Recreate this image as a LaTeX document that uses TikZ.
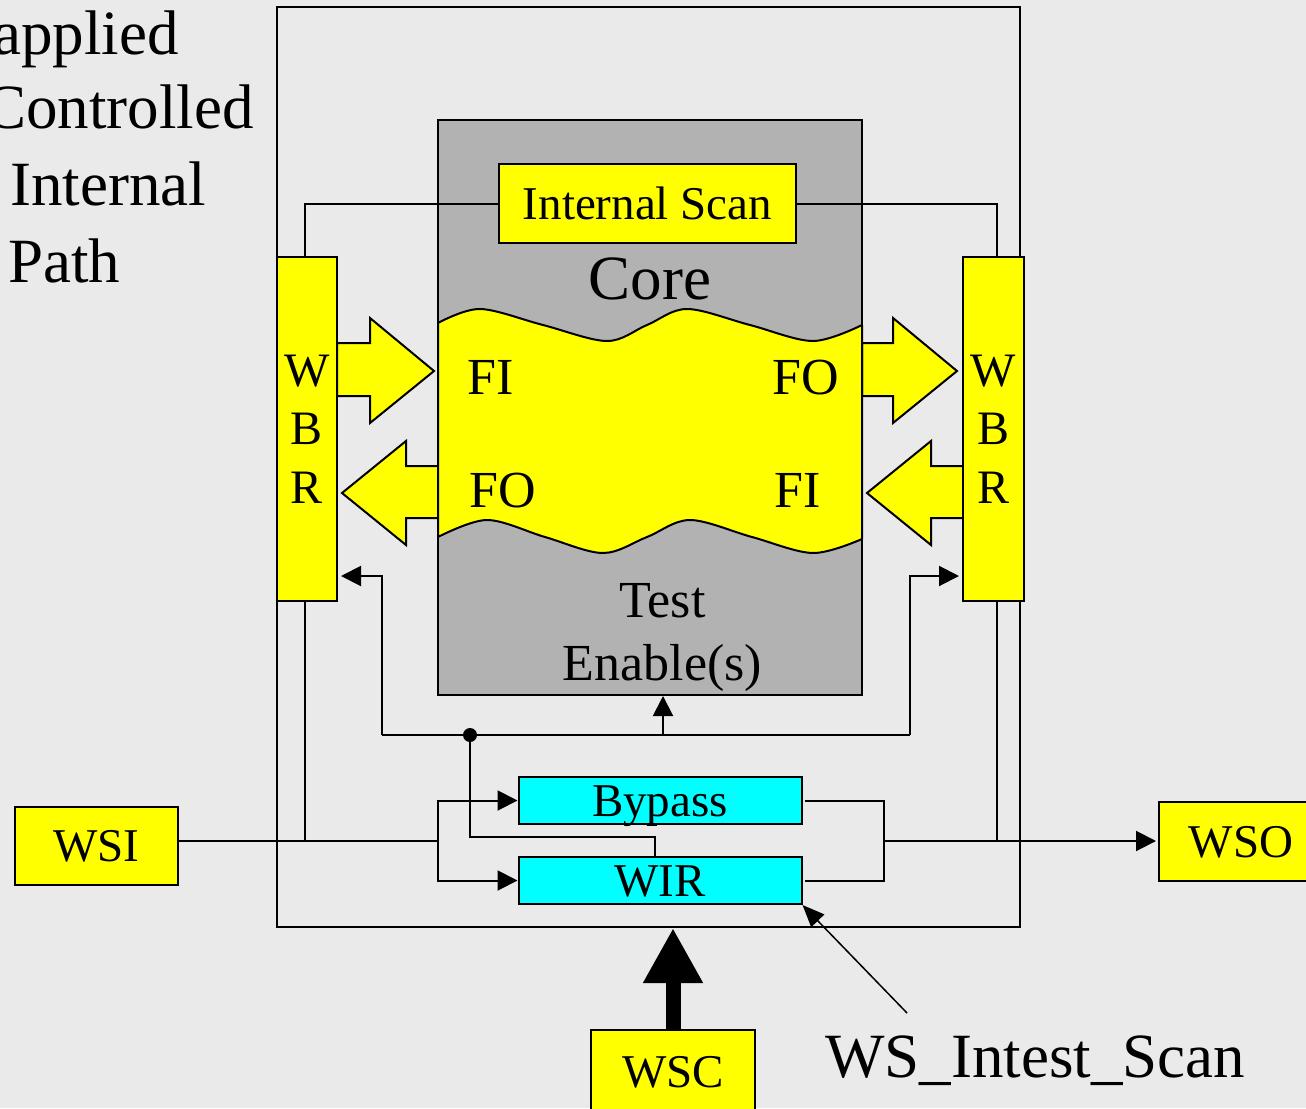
\documentclass[tikz,border=0pt]{standalone}
\usepackage{fontspec}
\setmainfont{Liberation Serif}
\usetikzlibrary{arrows.meta}
\definecolor{bg}{HTML}{EAEAEA}
\definecolor{coregray}{HTML}{B2B2B2}
\definecolor{yel}{HTML}{FFFF00}
\definecolor{cy}{HTML}{00FFFF}
\begin{document}
\begin{tikzpicture}[x=1pt,y=-1pt,
  wire/.style={line width=2pt, draw=black},
  arr/.style={wire, -{Triangle[length=20pt,width=20pt]}},
  box/.style={draw=black, line width=2pt, inner sep=0pt, text height=31pt, text depth=0pt, font=\fontsize{47}{56}\selectfont},
  ybox/.style={box, fill=yel},
  cbox/.style={box, fill=cy},
  wbrbox/.style={draw=black, line width=2pt, fill=yel, inner sep=0pt, align=center, font=\fontsize{48}{58.5}\selectfont, minimum width=60pt, minimum height=344pt},
  lbl/.style={inner sep=0pt, anchor=base},
  big/.style={font=\fontsize{63}{76}\selectfont},
  mid/.style={font=\fontsize{52}{63}\selectfont},
  blockarr/.style={draw=black, line width=2pt, fill=yel, line join=miter},
]
\clip (0,0) rectangle (1306,1108);
\fill[bg] (0,0) rectangle (1306,1108);

% left side text
\node[lbl, big, anchor=base west] (t1) at (-7,55) {applied};
\node[lbl, big, anchor=base west] (t2) at (-16,128) {Controlled};
\node[lbl, big, anchor=base west] (t3) at (10,205) {Internal};
\node[lbl, big, anchor=base west] (t4) at (8,282) {Path};

% outer wrapper box
\node[draw, line width=2pt, minimum width=743pt, minimum height=920pt, inner sep=0pt] (outer) at (648.5,467) {};

% core
\node[draw, line width=2pt, fill=coregray, minimum width=424pt, minimum height=575pt, inner sep=0pt] (core) at (650,407.5) {};

% block arrows
\draw[blockarr] (337,343) -- (370,343) -- (370,318) -- (434,371) -- (370,423) -- (370,396) -- (337,396) -- cycle;
\draw[blockarr] (438,466) -- (406,466) -- (406,441) -- (342,493) -- (406,545) -- (406,518) -- (438,518) -- cycle;
\draw[blockarr] (862,343) -- (893,343) -- (893,318) -- (957,371) -- (893,423) -- (893,396) -- (862,396) -- cycle;
\draw[blockarr] (964,466) -- (931,466) -- (931,441) -- (867,493) -- (931,545) -- (931,518) -- (964,518) -- cycle;

% wavy functional region
\draw[line width=2pt, fill=yel, line join=round]
  plot[smooth, tension=0.55] coordinates {(438,323) (480,309) (543,325) (607,341) (647,325) (687,309) (750,325) (813,341) (862,325)}
  -- plot[smooth, tension=0.55] coordinates {(862,539) (813,553) (752,537) (690,520) (647,537) (603,553) (545,537) (487,520) (438,537)}
  -- cycle;

\node[lbl, big] (coretxt) at (650,299) {Core};
\node[lbl, mid] (fi1) at (491,394) {FI};
\node[lbl, mid] (fo1) at (806,394) {FO};
\node[lbl, mid] (fo2) at (503,507) {FO};
\node[lbl, mid] (fi2) at (798,507) {FI};
\node[lbl, mid] (te1) at (662.5,617) {Test};
\node[lbl, mid] (te2) at (662.5,680) {Enable(s)};

% boxes
\node[ybox, minimum width=297pt, minimum height=79pt] (intscan) at (647.5,203.5) {Internal Scan};
\node[wbrbox] (lwbr) at (307,429) {W\\B\\R};
\node[wbrbox, minimum width=61pt] (rwbr) at (993.5,429) {W\\B\\R};
\node[cbox, minimum width=283pt, minimum height=47pt] (bypass) at (660,800.5) {Bypass};
\node[cbox, minimum width=283pt, minimum height=47pt] (wir) at (660,880.5) {WIR};
\node[ybox, minimum width=163pt, minimum height=78pt] (wsi) at (96.5,846) {WSI};
\node[ybox, minimum width=164pt, minimum height=79pt] (wso) at (1241,841.5) {WSO};
\node[ybox, minimum width=164pt, minimum height=83pt] (wsc) at (673,1071.5) {WSC};
\node[lbl, big, anchor=base west] (wsis) at (825,1077) {WS\_Intest\_Scan};

% internal scan chain connections
\draw[wire] (intscan.west) -| ([xshift=-2pt]lwbr.north);
\draw[wire] (intscan.east) -| ([xshift=3.5pt]rwbr.north);

% test enable bus
\coordinate (busL) at (382,735);
\coordinate (busR) at (910,735);
\coordinate (busM) at (663,735);
\coordinate (dot) at (470,735);
\draw[wire] (busL) -- (busR);
\draw[arr] (busL) |- ([xshift=3pt]lwbr.east |- 0,576);
\draw[arr] (busR) |- ([xshift=-3pt]rwbr.west |- 0,576);
\draw[arr] (busM) -- (core.south -| busM);
\fill (dot) circle[radius=7pt];
\draw[wire] (dot) |- (655,837) -- (wir.north -| 655,0);

% serial input side
\coordinate (split) at (438,841);
\draw[wire] (wsi.east |- split) -- (split);
\draw[wire] ([xshift=-2pt]lwbr.south) -- (305,841);
\draw[arr] (split) |- (bypass.west);
\draw[arr] (split) |- (wir.west);

% serial output side
\coordinate (merge) at (884,841);
\draw[wire] ([xshift=2pt]bypass.east) -| (merge) |- ([xshift=2pt]wir.east);
\draw[arr] (merge) -- ([xshift=-2pt]wso.west |- merge);
\draw[wire] ([xshift=3.5pt]rwbr.south) -- (997,841);

% control
\draw[line width=15pt, -{Triangle[length=55pt,width=56pt]}] (wsc.north) -- (outer.south -| wsc.north);
\coordinate (wsisend) at (907,1013);
\draw[line width=1.5pt, -{Triangle[length=22pt,width=18pt]}] (wsisend) -- (wir.south east);
\end{tikzpicture}
\end{document}
